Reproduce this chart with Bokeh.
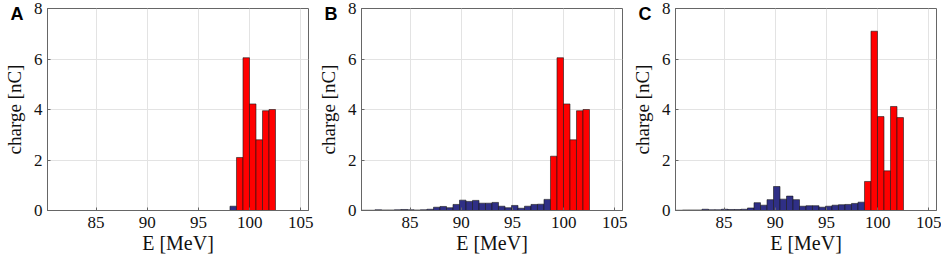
from bokeh.plotting import figure
from bokeh.layouts import row
from bokeh.models import Range1d, FixedTicker, LinearAxis
from bokeh.embed import file_html
from bokeh.resources import INLINE

# histogram bins (MeV)
bin_start = 80.3
bin_width = 0.635
n_low = 29  # number of low-energy (blue) bins

panel_letters = ["A", "B", "C"]
x_ticks = [85, 90, 95, 100, 105]
y_ticks = [0, 2, 4, 6, 8]

low_A = [0.0] * 28 + [0.17]
high_A = [2.10, 6.05, 4.22, 2.80, 3.95, 4.00]

low_B = [0.01, 0.01, 0.03, 0.02, 0.02, 0.03, 0.04, 0.03, 0.02, 0.03, 0.05,
         0.13, 0.16, 0.11, 0.24, 0.41, 0.36, 0.40, 0.29, 0.29, 0.32, 0.17,
         0.11, 0.20, 0.09, 0.17, 0.24, 0.25, 0.44]
high_B = [2.15, 6.05, 4.22, 2.80, 3.95, 4.00]

low_C = [0.01, 0.02, 0.02, 0.02, 0.05, 0.03, 0.03, 0.05, 0.04, 0.04,
         0.05, 0.10, 0.31, 0.21, 0.43, 0.95, 0.45, 0.57, 0.43, 0.17, 0.19,
         0.19, 0.13, 0.17, 0.21, 0.23, 0.24, 0.28, 0.33]
high_C = [1.15, 7.10, 3.72, 1.57, 4.12, 3.68]

BLUE = "#2f2f86"
RED = "#ff0000"
SERIF = "Liberation Serif"
LETTER_POS = 7.8  # y position (data) of the panel letter


def make_panel(letter, low, high, width):
    p = figure(width=width, height=261, output_backend="svg", toolbar_location=None,
               x_range=Range1d(80.25, 105.75), y_range=Range1d(0, 8),
               min_border_left=42, min_border_right=width - 44 - 264,
               min_border_top=8, min_border_bottom=51)
    centers_low = [bin_start + bin_width * (i + 0.5) for i in range(len(low))]
    centers_high = [bin_start + bin_width * (n_low + i + 0.5) for i in range(len(high))]
    p.vbar(x=centers_low, top=low, bottom=0, width=bin_width,
           fill_color=BLUE, line_color="#1a1a1a", line_width=0.6)
    p.vbar(x=centers_high, top=high, bottom=0, width=bin_width,
           fill_color=RED, line_color="#1a1a1a", line_width=0.6)

    p.xaxis.ticker = FixedTicker(ticks=x_ticks)
    p.yaxis.ticker = FixedTicker(ticks=y_ticks)
    p.xaxis.axis_label = "E [MeV]"
    for ax in (p.xaxis, p.yaxis):
        ax.axis_label_text_font = SERIF
        ax.axis_label_text_font_style = "normal"
        ax.axis_label_text_color = "#111111"
        ax.major_label_text_font = SERIF
        ax.major_label_text_font_size = "17px"
        ax.major_label_text_color = "#111111"
        ax.axis_line_color = "#666666"
        ax.major_tick_in = 3
        ax.major_tick_out = 0
        ax.major_tick_line_color = "#666666"
        ax.minor_tick_line_color = None
    p.xaxis.axis_label_text_font_size = "20px"
    p.xaxis.axis_label_standoff = 1
    p.xaxis.major_label_standoff = 6
    p.yaxis.major_label_standoff = 5

    # outer left axis: carries the panel letter and the y-axis title
    outer = LinearAxis(ticker=FixedTicker(ticks=[LETTER_POS]),
                       major_label_overrides={LETTER_POS: letter},
                       axis_label="charge [nC]")
    outer.axis_line_color = None
    outer.major_tick_line_color = None
    outer.minor_tick_line_color = None
    outer.major_tick_in = 0
    outer.major_tick_out = 0
    outer.major_label_standoff = 7
    outer.major_label_text_font = "Liberation Sans"
    outer.major_label_text_font_style = "bold"
    outer.major_label_text_font_size = "18px"
    outer.major_label_text_color = "black"
    outer.axis_label_text_font = SERIF
    outer.axis_label_text_font_style = "normal"
    outer.axis_label_text_font_size = "19px"
    outer.axis_label_text_color = "#111111"
    outer.axis_label_standoff = -17
    p.add_layout(outer, "left")

    p.grid.grid_line_color = "#e3e3e3"
    p.grid.grid_line_width = 1
    p.outline_line_color = "#666666"
    p.outline_line_width = 1
    p.background_fill_color = "white"
    p.border_fill_color = "white"
    return p


panels = [make_panel(panel_letters[0], low_A, high_A, 314),
          make_panel(panel_letters[1], low_B, high_B, 314),
          make_panel(panel_letters[2], low_C, high_C, 313)]
layout = row(*panels)
open("out.html", "w").write(file_html(layout, INLINE))
